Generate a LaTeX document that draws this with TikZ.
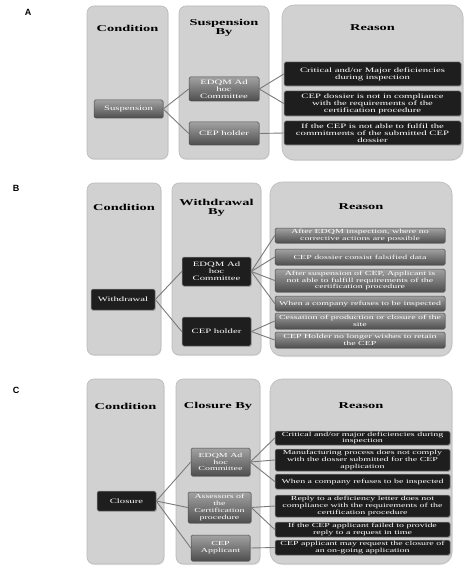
\documentclass[tikz,border=0pt]{standalone}
\usepackage{fontspec}
\usepackage{xcolor}
\usepackage{tikz}
\usetikzlibrary{shadows}
\setsansfont{Liberation Sans}
\newfontfamily\figfont{Liberation Serif}[FakeStretch=1.6]
\definecolor{colgray}{HTML}{D1D1D1}
\definecolor{coledge}{HTML}{BABABA}
\definecolor{boxtop}{HTML}{A2A2A2}
\definecolor{boxbot}{HTML}{4E4E4E}
\definecolor{boxblack}{HTML}{1E1E1E}
\definecolor{linkgray}{HTML}{7A7A7A}
\tikzset{
  link/.style={draw=linkgray, line width=0.9pt},
  every node/.style={anchor=center}
}

\begin{document}
\begin{tikzpicture}[
  x=1pt, y=-1pt,
  col/.style={rounded corners=7pt, fill=colgray, draw=coledge, line width=0.6pt, inner sep=0pt,
    drop shadow={shadow xshift=0.6pt, shadow yshift=-1pt, opacity=0.2}},
  reascol/.style={col, rounded corners=12pt},
  head/.style={font=\figfont\fontsize{9}{9.6}\selectfont\bfseries, align=center},
  panel/.style={font=\sffamily\bfseries\fontsize{9}{10}\selectfont},
  box/.style={rounded corners=1.5pt, line width=0.5pt, text=white, align=center, inner sep=0.5pt,
    font=\figfont\fontsize{6.2}{6.8}\selectfont, drop shadow={shadow xshift=0.8pt, shadow yshift=-0.8pt, opacity=0.35}},
  big/.style={font=\figfont\fontsize{6.7}{7.1}\selectfont},
  gbox/.style={box, draw=black!70, top color=boxtop, bottom color=boxbot},
  kbox/.style={box, draw=black!40, fill=boxblack}
]
\useasboundingbox (0,0) rectangle (474,572);
% panel A: suspension
\node[panel] (labA) at (28,12) {A};
\node[col, minimum width=81pt, minimum height=153pt] (colA1) at (127.5,82.5) {};
\node[col, minimum width=90pt, minimum height=153pt] (colA2) at (224,82.5) {};
\node[reascol, minimum width=181pt, minimum height=155pt] (colA3) at (372.5,82.5) {};
\node[head] (hdA1) at (127.5,28) {Condition};
\node[head] (hdA2) at (224,28) {Suspension\\By};
\node[head] (hdA3) at (372.5,28) {Reason};
\node[gbox, big, minimum width=69pt, minimum height=18pt] (sus) at (128.5,109) {Suspension};
\node[gbox, big, minimum width=70pt, minimum height=24pt] (edqmA) at (224,89) {EDQM Ad\\hoc\\Committee};
\node[gbox, big, minimum width=70pt, minimum height=23pt] (holderA) at (224,133.5) {CEP holder};
\node[kbox, big, minimum width=177pt, minimum height=24pt] (rA1) at (372.5,74) {Critical and/or Major deficiencies\\during inspection};
\node[kbox, big, minimum width=177pt, minimum height=25pt] (rA2) at (372.5,103.5) {CEP dossier is not in compliance\\with the requirements of the\\certification procedure};
\node[kbox, big, minimum width=177pt, minimum height=24pt] (rA3) at (372.5,133) {If the CEP is not able to fulfil the\\commitments of the submitted CEP\\dossier};
\draw[link] (sus.east) -- (edqmA.west);
\draw[link] (sus.east) -- (holderA.west);
\draw[link] (edqmA.east) -- (rA1.west);
\draw[link] (edqmA.east) -- (rA2.west);
\draw[link] (holderA.east) -- (rA3.west);
% panel B: withdrawal
\node[panel] (labB) at (16,188) {B};
\node[col, minimum width=74pt, minimum height=172pt] (colB1) at (124,269) {};
\node[col, minimum width=89pt, minimum height=172pt] (colB2) at (216.5,269) {};
\node[reascol, minimum width=182pt, minimum height=174pt] (colB3) at (361,269) {};
\node[head] (hdB1) at (124,207) {Condition};
\node[head] (hdB2) at (216.5,208) {Withdrawal\\By};
\node[head] (hdB3) at (361,207) {Reason};
\node[kbox, big, minimum width=64pt, minimum height=21pt] (wd) at (123,299.5) {Withdrawal};
\node[kbox, big, minimum width=69pt, minimum height=29pt] (edqmB) at (216.5,271.5) {EDQM Ad\\hoc\\Committee};
\node[kbox, big, minimum width=69pt, minimum height=29pt] (holderB) at (216.5,331.5) {CEP holder};
\node[gbox, minimum width=170pt, minimum height=15pt] (rB1) at (360,235.5) {After EDQM inspection, where no\\corrective actions are possible};
\node[gbox, minimum width=170pt, minimum height=16pt] (rB2) at (360,257) {CEP dossier consist falsified data};
\node[gbox, minimum width=170pt, minimum height=23pt] (rB3) at (360,280.5) {After suspension of CEP, Applicant is\\not able to fulfill\ requirements of the\\certification procedure};
\node[gbox, minimum width=170pt, minimum height=15pt] (rB4) at (360,303.5) {When a company refuses to be inspected};
\node[gbox, minimum width=170pt, minimum height=16pt] (rB5) at (360,321) {Cessation of production or closure of the\\site};
\node[gbox, minimum width=170pt, minimum height=16pt] (rB6) at (360,340) {CEP Holder no longer wishes to retain\\the CEP};
\draw[link] (wd.east) -- (edqmB.west);
\draw[link] (wd.east) -- (holderB.west);
\foreach \r in {rB1,rB2,rB3,rB4} \draw[link] (edqmB.east) -- (\r.west);
\foreach \r in {rB5,rB6} \draw[link] (holderB.east) -- (\r.west);
% panel C: closure
\node[panel] (labC) at (16,390) {C};
\node[col, minimum width=77pt, minimum height=185pt] (colC1) at (125.5,471.5) {};
\node[col, minimum width=84pt, minimum height=185pt] (colC2) at (218,471.5) {};
\node[reascol, minimum width=182pt, minimum height=185pt] (colC3) at (361,471.5) {};
\node[head] (hdC1) at (125.5,406) {Condition};
\node[head] (hdC2) at (218,406) {Closure By};
\node[head] (hdC3) at (361,406) {Reason};
\node[kbox, big, minimum width=59pt, minimum height=20pt] (clo) at (126.5,501) {Closure};
\node[gbox, minimum width=59pt, minimum height=28pt] (edqmC) at (220.5,462) {EDQM Ad\\hoc\\Committee};
\node[gbox, minimum width=63pt, minimum height=31pt] (assC) at (219.5,507.5) {Assessors of\\the\\Certification\\procedure};
\node[gbox, minimum width=59pt, minimum height=26pt] (appC) at (220.5,548) {CEP\\Applicant};
\node[kbox, minimum width=175pt, minimum height=14pt] (rC1) at (362.5,438) {Critical and/or major deficiencies during\\inspection};
\node[kbox, minimum width=175pt, minimum height=22pt] (rC2) at (362.5,460) {Manufacturing process does not comply\\with the dosser submitted for the CEP\\application};
\node[kbox, minimum width=175pt, minimum height=15pt] (rC3) at (362.5,481.5) {When a company refuses to be inspected};
\node[kbox, minimum width=175pt, minimum height=22pt] (rC4) at (362.5,506) {Reply to a\ deficiency letter does not\\compliance with the requirements of the\\certification procedure};
\node[kbox, minimum width=175pt, minimum height=15pt] (rC5) at (362.5,529.5) {If the CEP applicant failed to provide\\reply to a request in time};
\node[kbox, minimum width=175pt, minimum height=15pt] (rC6) at (362.5,547.5) {CEP applicant may request the closure of\\an on-going application};
\foreach \m in {edqmC,assC,appC} \draw[link] (clo.east) -- (\m.west);
\foreach \r in {rC1,rC2,rC3} \draw[link] (edqmC.east) -- (\r.west);
\foreach \r in {rC4,rC5} \draw[link] (assC.east) -- (\r.west);
\draw[link] (appC.east) -- (rC6.west);
\end{tikzpicture}
\end{document}
